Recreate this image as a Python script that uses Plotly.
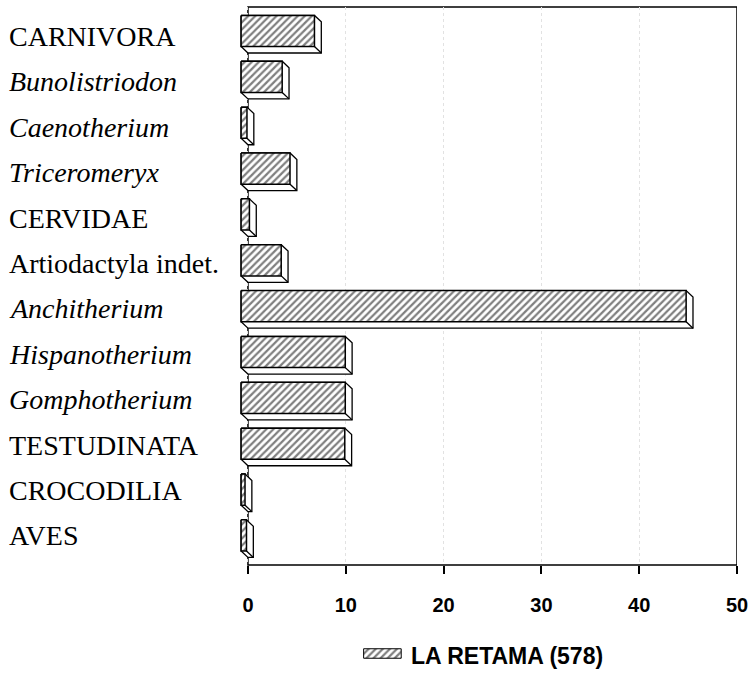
import plotly.graph_objects as go

# ---------------- data ----------------
categories = ["CARNIVORA", "Bunolistriodon", "Caenotherium", "Triceromeryx",
              "CERVIDAE", "Artiodactyla indet.", "Anchitherium", "Hispanotherium",
              "Gomphotherium", "TESTUDINATA", "CROCODILIA", "AVES"]
italic_names = [False, True, True, True, False, False, True, True, True, False, False, False]
values = [7.5, 4.2, 0.6, 5.0, 0.85, 4.1, 45.5, 10.65, 10.65, 10.6, 0.4, 0.55]
x_ticks = [0, 10, 20, 30, 40, 50]
series_name = "LA RETAMA (578)"

# ---------------- style ----------------
W, H = 753, 675
BAR_W = 0.68      # bar thickness (category units)
OX = 0.7          # 3-D depth offset in x (data units)
OY = 0.14         # 3-D depth offset in y (category units)
PAT = dict(shape="/", size=5, solidity=0.45, fgcolor="black", bgcolor="white")

fig = go.Figure()

pos = list(range(len(categories)))

# depth (extruded) parts
edge_x, edge_y = [], []
for i, v in zip(pos, values):
    x0, x1 = -OX, v - OX
    y0, y1 = i - BAR_W / 2, i + BAR_W / 2
    fig.add_trace(go.Scatter(
        x=[x0, x1, x1 + OX, x1 + OX, x0 + OX, x0, x0],
        y=[y0, y0, y0 + OY, y1 + OY, y1 + OY, y1, y0],
        mode="lines", fill="toself", fillcolor="white",
        line=dict(color="black", width=1.3), hoverinfo="skip", showlegend=False))
    edge_x += [x1, x1 + OX, None]
    edge_y += [y1, y1 + OY, None]

fig.add_trace(go.Scatter(x=edge_x, y=edge_y, mode="lines",
                         line=dict(color="black", width=1.3),
                         hoverinfo="skip", showlegend=False))

# hatched front faces
for i, v in zip(pos, values):
    x0, x1 = -OX, v - OX
    y0, y1 = i - BAR_W / 2, i + BAR_W / 2
    fig.add_trace(go.Scatter(
        x=[x0, x1, x1, x0, x0], y=[y0, y0, y1, y1, y0],
        mode="lines", fill="toself", fillcolor="white", fillpattern=PAT,
        line=dict(color="black", width=1.5), name=series_name,
        hovertemplate=f"{categories[i]}: {v}<extra></extra>", showlegend=False))

# legend swatch (own small axes)
fig.add_trace(go.Scatter(
    x=[0, 1, 1, 0, 0], y=[0, 0, 1, 1, 0], xaxis="x2", yaxis="y2",
    mode="lines", fill="toself", fillcolor="white", fillpattern=PAT,
    line=dict(color="black", width=1), hoverinfo="skip", showlegend=False))

# ---------------- layout ----------------
ML, MR, MT, MB = 236, 14, 7, 5
pw, ph = W - ML - MR, H - MT - MB
y_bottom_px = 565
ydom0 = (H - MB - y_bottom_px) / ph

def px_x(p):
    return (p - ML) / pw

def px_y(p):
    return (H - MB - p) / ph

annotations = []
for i, (c, it) in enumerate(zip(categories, italic_names)):
    annotations.append(dict(
        text=f"<i>{c}</i>" if it else c, xref="paper", yref="y",
        x=px_x(6), y=i, xanchor="left", yanchor="middle",
        yshift=-(5.5 - 0.46 * i), showarrow=False,
        font=dict(family="Liberation Serif", size=28, color="black")))
annotations.append(dict(
    text=series_name, xref="paper", yref="paper", x=px_x(410), y=px_y(656),
    xanchor="left", yanchor="middle", showarrow=False,
    font=dict(family="Liberation Sans", size=23, color="black", weight="bold")))

fig.update_layout(
    width=W, height=H,
    margin=dict(l=ML, r=MR, t=MT, b=MB),
    paper_bgcolor="white", plot_bgcolor="white",
    showlegend=False,
    xaxis=dict(range=[-12 / 9.82, 50], tickvals=x_ticks, ticktext=[str(t) for t in x_ticks],
               ticks="outside", ticklen=8, tickwidth=1.5, tickcolor="black",
               tickfont=dict(family="Liberation Sans", size=20, color="black", weight="bold"),
               ticklabelstandoff=14,
               showgrid=True, gridcolor="#e2e2e2", griddash="dot", gridwidth=1,
               zeroline=False, showline=False, anchor="y"),
    yaxis=dict(range=[(y_bottom_px - 31) / 45.86, -24 / 45.86], domain=[ydom0, 1],
               showticklabels=False, showgrid=False, zeroline=False, ticks="",
               showline=False),
    xaxis2=dict(domain=[px_x(363), px_x(403)], range=[-0.03, 1.03], visible=False,
                anchor="y2", fixedrange=True),
    yaxis2=dict(domain=[px_y(659), px_y(648)], range=[-0.08, 1.08], visible=False,
                anchor="x2", fixedrange=True),
    shapes=[dict(type="rect", xref="x", yref="y domain", x0=0, x1=50, y0=0, y1=1,
                 line=dict(color="black", width=1.5), layer="below")],
    annotations=annotations,
)

fig.write_html("out.html", config={"displayModeBar": False},
               post_script="document.body.style.margin='0px';")
